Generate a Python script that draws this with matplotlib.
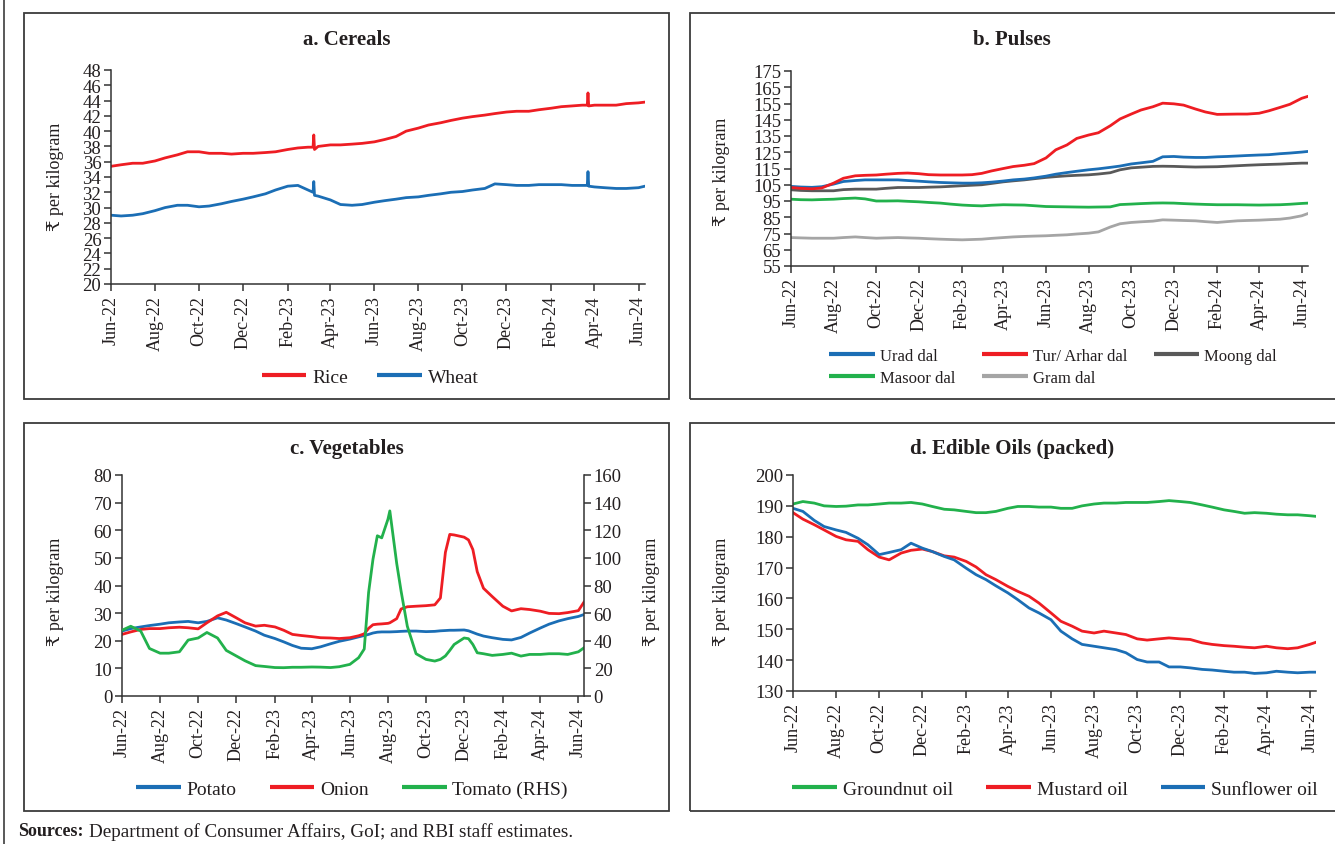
import matplotlib
matplotlib.use('Agg')
import matplotlib.pyplot as plt
import matplotlib.dates as mdates
import pandas as pd
from matplotlib.patches import Rectangle
from matplotlib.lines import Line2D

plt.rcParams['font.family'] = ['Liberation Serif', 'DejaVu Serif', 'DejaVu Sans']
TXT = '#231F20'
plt.rcParams['text.color'] = TXT
plt.rcParams['axes.edgecolor'] = '#333333'
plt.rcParams['xtick.color'] = '#333333'
plt.rcParams['ytick.color'] = '#333333'
plt.rcParams['xtick.labelcolor'] = TXT
plt.rcParams['ytick.labelcolor'] = TXT

RED = '#EE1D23'
BLUE = '#1B6EB5'
GREEN = '#22B14C'
DGRAY = '#595959'
LGRAY = '#A5A5A5'

# ---------------- data ----------------
semi_monthly = list(pd.date_range('2022-06-01', '2024-06-01', freq='SMS'))
end_date = pd.Timestamp('2024-06-10')
dates = semi_monthly + [end_date]

# a. Cereals
rice = [35.4, 35.6, 35.8, 35.8, 36.1, 36.5, 36.9, 37.3, 37.3, 37.1,
        37.1, 37.0, 37.1, 37.1, 37.2, 37.3, 37.6, 37.8, 37.9, 38.0,
        38.2, 38.2, 38.3, 38.4, 38.6, 38.9, 39.3, 40.0, 40.4, 40.8,
        41.1, 41.4, 41.7, 41.9, 42.1, 42.3, 42.5, 42.6, 42.6, 42.8,
        43.0, 43.2, 43.3, 43.4, 43.4, 43.4, 43.4, 43.6, 43.7, 43.8]
wheat = [29.0, 28.9, 29.0, 29.2, 29.6, 30.0, 30.3, 30.3, 30.1, 30.2,
         30.5, 30.8, 31.1, 31.4, 31.8, 32.3, 32.8, 32.9, 32.3, 31.5,
         31.0, 30.4, 30.3, 30.4, 30.7, 30.9, 31.1, 31.3, 31.4, 31.6,
         31.8, 32.0, 32.1, 32.3, 32.5, 33.1, 33.0, 32.9, 32.9, 33.0,
         33.0, 33.0, 32.9, 32.9, 32.7, 32.6, 32.5, 32.5, 32.6, 32.8]
spike_dates = ['2023-03-08', '2023-03-09', '2023-03-10',
               '2024-03-22', '2024-03-23', '2024-03-24']
rice_spikes = [37.9, 39.5, 37.6, 43.4, 45.0, 43.3]
wheat_spikes = [32.0, 33.4, 31.6, 32.9, 34.7, 32.8]

# b. Pulses
urad = [104.0, 103.6, 103.4, 103.8, 105.4, 107.0, 107.6, 108.0, 108.0, 108.0,
        108.0, 107.6, 107.2, 106.8, 106.4, 106.2, 106.0, 106.0, 106.2, 106.6,
        107.3, 108.0, 108.5, 109.2, 110.3, 111.5, 112.5, 113.3, 114.2, 114.8,
        115.7, 116.5, 117.8, 118.5, 119.4, 122.2, 122.4, 122.0, 121.8, 121.8,
        122.2, 122.4, 122.7, 123.0, 123.3, 123.5, 124.1, 124.5, 125.1, 125.5]
tur = [103.3, 102.8, 102.5, 103.0, 106.0, 109.0, 110.5, 110.8, 111.0, 111.5,
       112.0, 112.2, 111.8, 111.2, 111.0, 111.0, 111.0, 111.2, 112.0, 113.5,
       115.0, 116.2, 117.0, 118.0, 121.5, 126.5, 129.5, 133.5, 135.6, 137.0,
       141.3, 145.5, 148.5, 151.0, 153.0, 155.2, 154.8, 154.0, 151.6, 149.8,
       148.3, 148.4, 148.5, 148.5, 149.0, 150.5, 152.6, 154.5, 158.2, 159.4]
moong = [101.9, 101.5, 101.3, 101.3, 101.3, 102.0, 102.3, 102.3, 102.3, 102.8,
         103.3, 103.3, 103.3, 103.5, 103.7, 104.0, 104.4, 104.7, 105.0, 105.8,
         106.8, 107.4, 108.0, 108.7, 109.5, 110.0, 110.5, 110.8, 111.1, 111.6,
         112.4, 114.2, 115.4, 115.8, 116.3, 116.4, 116.3, 116.1, 115.9, 116.0,
         116.1, 116.4, 116.7, 117.0, 117.3, 117.5, 117.7, 118.0, 118.3, 118.3]
masoor = [96.1, 95.8, 95.7, 95.9, 96.1, 96.5, 96.8, 96.3, 95.0, 95.0,
          95.1, 94.8, 94.5, 94.1, 93.7, 93.1, 92.5, 92.2, 92.0, 92.4,
          92.7, 92.6, 92.5, 92.1, 91.6, 91.5, 91.4, 91.3, 91.2, 91.3,
          91.4, 92.8, 93.1, 93.4, 93.7, 93.8, 93.7, 93.4, 93.1, 92.9,
          92.7, 92.7, 92.7, 92.6, 92.5, 92.6, 92.7, 93.0, 93.5, 93.7]
gram = [72.5, 72.3, 72.1, 72.1, 72.1, 72.5, 72.9, 72.5, 72.1, 72.3,
        72.5, 72.3, 72.1, 71.8, 71.5, 71.3, 71.1, 71.3, 71.5, 72.0,
        72.5, 72.9, 73.2, 73.4, 73.6, 73.9, 74.2, 74.7, 75.2, 76.0,
        79.0, 81.0, 81.8, 82.2, 82.6, 83.4, 83.2, 83.0, 82.8, 82.3,
        81.8, 82.3, 82.8, 83.0, 83.2, 83.5, 83.8, 84.5, 85.9, 87.3]

# c. Vegetables (extra dates around the 2023 spikes)
veg_extra_dates = ['2023-06-24', '2023-07-08', '2023-07-22', '2023-08-04', '2023-08-22',
                   '2023-10-24', '2023-11-08', '2023-12-08', '2023-12-22']
veg_dates = sorted(semi_monthly + [pd.Timestamp(d) for d in veg_extra_dates] + [end_date])
potato = [23.5, 24.4, 25.0, 25.5, 26.0, 26.5, 26.8, 27.0, 26.5, 27.0,
          28.3, 27.5, 26.2, 25.0, 23.5, 22.0, 20.8, 19.6, 18.3, 17.3,
          17.1, 17.8, 18.9, 19.8, 20.6, 21.4, 21.9, 22.3, 22.8, 23.1,
          23.2, 23.2, 23.2, 23.3, 23.4, 23.5, 23.5, 23.3, 23.4, 23.6,
          23.7, 23.8, 23.8, 23.9, 23.6, 23.0, 22.4, 21.7, 21.1, 20.5,
          20.3, 21.2, 22.8, 24.6, 26.0, 27.2, 28.0, 28.8, 29.5]
onion = [22.3, 23.2, 24.1, 24.4, 24.4, 24.7, 24.9, 24.7, 24.3, 26.5,
         29.0, 30.3, 28.3, 26.5, 25.3, 25.6, 25.0, 23.8, 22.3, 21.9,
         21.5, 21.1, 21.0, 20.8, 21.1, 21.8, 22.5, 24.5, 25.8, 26.0,
         26.1, 26.3, 26.5, 28.0, 31.5, 32.3, 32.5, 32.7, 33.0, 35.5,
         52.0, 58.5, 58.3, 57.5, 56.5, 53.0, 45.0, 39.0, 36.0, 32.5,
         30.8, 31.6, 31.3, 30.7, 29.9, 29.8, 30.2, 30.9, 34.0]
tomato = [47.6, 50.5, 47.0, 34.4, 31.0, 31.0, 32.0, 40.5, 42.0, 46.0,
          42.0, 33.0, 29.0, 25.5, 22.0, 21.4, 20.6, 20.5, 20.8, 20.8,
          21.0, 20.9, 20.6, 21.2, 22.9, 27.7, 34.0, 75.0, 99.0, 116.0,
          114.5, 128.0, 134.0, 96.0, 76.0, 50.5, 30.6, 26.5, 25.3, 26.5,
          29.0, 33.0, 37.3, 42.0, 41.5, 37.3, 31.3, 30.6, 29.4, 30.1,
          31.0, 28.9, 30.1, 30.1, 30.6, 30.6, 30.1, 32.0, 34.9]

# d. Edible oils
groundnut = [190.6, 191.4, 190.9, 190.0, 189.8, 189.9, 190.3, 190.3, 190.6, 190.9,
             190.9, 191.1, 190.6, 189.8, 188.9, 188.7, 188.2, 187.8, 187.8, 188.2,
             189.2, 189.8, 189.8, 189.6, 189.6, 189.2, 189.2, 190.0, 190.6, 190.9,
             190.9, 191.1, 191.1, 191.1, 191.4, 191.7, 191.4, 191.1, 190.3, 189.6,
             188.7, 188.2, 187.6, 187.8, 187.6, 187.3, 187.1, 187.1, 186.8, 186.6]
mustard = [187.8, 185.7, 183.9, 182.2, 180.1, 179.0, 178.5, 175.8, 173.4, 172.5,
           174.7, 175.6, 176.0, 175.2, 173.8, 173.4, 172.0, 170.2, 167.7, 166.1,
           163.9, 162.3, 160.7, 158.5, 155.3, 152.6, 151.0, 149.4, 148.8, 149.4,
           148.8, 148.3, 146.9, 146.5, 146.9, 147.2, 146.9, 146.7, 145.6, 145.1,
           144.7, 144.5, 144.2, 144.0, 144.5, 144.0, 143.7, 144.0, 145.1, 145.8]
sunflower = [189.2, 188.2, 185.3, 183.3, 182.2, 181.4, 179.5, 177.4, 174.2, 174.9,
             175.8, 177.9, 176.3, 175.2, 173.6, 172.5, 169.8, 167.7, 166.1, 164.1,
             161.8, 159.6, 156.9, 155.3, 153.1, 149.4, 146.9, 145.1, 144.5, 144.0,
             143.4, 142.4, 140.2, 139.4, 139.4, 137.8, 137.8, 137.5, 137.0, 136.8,
             136.4, 136.1, 136.1, 135.7, 135.9, 136.4, 136.1, 135.9, 136.1, 136.1]

# ---------------- layout helpers ----------------
W, H = 1335, 845
fig = plt.figure(figsize=(W / 100, H / 100), dpi=100)
fig.patch.set_facecolor('white')


def px_axes(l, t, r, b):
    return fig.add_axes([l / W, 1 - b / H, (r - l) / W, (b - t) / H])


def box(l, t, r, b):
    fig.add_artist(Rectangle((l / W, 1 - b / H), (r - l) / W, (b - t) / H,
                             transform=fig.transFigure, fill=False,
                             ec='#3C3C3C', lw=1.3))


def style(ax, ylim, yticks):
    ax.set_xlim(dates[0], end_date)
    ax.set_ylim(*ylim)
    ax.set_yticks(yticks)
    ax.xaxis.set_major_locator(mdates.MonthLocator(bymonth=[2, 4, 6, 8, 10, 12]))
    ax.xaxis.set_major_formatter(mdates.DateFormatter('%b-%y'))
    ax.spines['top'].set_visible(False)
    ax.spines['right'].set_visible(False)
    ax.spines['left'].set_linewidth(1.1)
    ax.spines['bottom'].set_linewidth(1.1)
    ax.tick_params(axis='x', rotation=90, labelsize=13, length=5, width=1.1, pad=3)
    ax.tick_params(axis='y', labelsize=13.5, length=5, width=1.1, pad=2)
    ax.set_facecolor('none')


def series(d, v, extra_d=None, extra_v=None):
    s = pd.Series(v, index=pd.DatetimeIndex(d))
    if extra_d is not None:
        s = pd.concat([s, pd.Series(extra_v, index=pd.DatetimeIndex(extra_d))]).sort_index()
    return s


def title(x, y, t):
    fig.text(x / W, 1 - y / H, t, ha='center', va='center', fontsize=15, fontweight='bold')


def ylab(x, y, t='₹ per kilogram'):
    fig.text(x / W, 1 - y / H, t, ha='center', va='center', rotation=90, fontsize=13)


def legend(handles, labels, x, y, ncol, colsp=1.7, fs=14, hl=2.3, rowsp=0.3):
    fig.legend(handles, labels, loc='center', bbox_to_anchor=(x / W, 1 - y / H),
               ncol=ncol, frameon=False, fontsize=fs, handlelength=hl,
               handletextpad=0.3, columnspacing=colsp, labelspacing=rowsp,
               borderaxespad=0, borderpad=0)


def handles(colors):
    return [Line2D([], [], color=c, lw=3, solid_capstyle='butt') for c in colors]


LW = 2.0
outer = Line2D([4 / W, 4 / W], [0, 1], transform=fig.transFigure, color='#3C3C3C', lw=1.2)
fig.add_artist(outer)

# boxes
box(24, 14, 669, 400)
box(690, 14, 1345, 400)
box(24, 424, 669, 812)
box(690, 424, 1345, 812)

# ---------------- a. Cereals ----------------
ax = px_axes(111, 71, 645, 285)
s_rice = series(dates, rice, spike_dates, rice_spikes)
s_wheat = series(dates, wheat, spike_dates, wheat_spikes)
ax.plot(s_rice.index, s_rice.values, color=RED, lw=LW)
ax.plot(s_wheat.index, s_wheat.values, color=BLUE, lw=LW)
style(ax, (20, 48), range(20, 49, 2))
title(347, 40, 'a. Cereals')
ylab(56, 177)
legend(handles((RED, BLUE)), ['Rice', 'Wheat'], 370, 378, 2, colsp=1.5)

# ---------------- b. Pulses ----------------
ax = px_axes(791, 72, 1308, 267)
for vals, c in ((gram, LGRAY), (masoor, GREEN), (moong, DGRAY), (urad, BLUE), (tur, RED)):
    ax.plot(dates, vals, color=c, lw=LW)
style(ax, (55, 175), range(55, 176, 10))
title(1012, 40, 'b. Pulses')
ylab(722, 172)
order = [('Urad dal', BLUE), ('Masoor dal', GREEN), ('Tur/ Arhar dal', RED),
         ('Gram dal', LGRAY), ('Moong dal', DGRAY)]
legend(handles([c for _, c in order]), [n for n, _ in order], 1053, 368, 3,
       colsp=1.6, fs=12, hl=2.75, rowsp=0.35)

# ---------------- c. Vegetables ----------------
ax = px_axes(122, 476, 584, 697)
ax.plot(veg_dates, potato, color=BLUE, lw=LW)
ax.plot(veg_dates, onion, color=RED, lw=LW)
style(ax, (0, 80), range(0, 81, 10))
ax2 = ax.twinx()
ax2.plot(veg_dates, tomato, color=GREEN, lw=LW)
ax2.set_ylim(0, 160)
ax2.set_yticks(range(0, 161, 20))
ax2.spines['top'].set_visible(False)
ax2.spines['left'].set_visible(False)
ax2.spines['bottom'].set_visible(False)
ax2.spines['right'].set_linewidth(1.1)
ax2.tick_params(axis='y', labelsize=13.5, length=5, width=1.1, pad=2)
ax2.set_xlim(dates[0], end_date)
title(347, 449, 'c. Vegetables')
ylab(56, 592)
ylab(651, 592)
legend(handles((BLUE, RED, GREEN)), ['Potato', 'Onion', 'Tomato (RHS)'], 352, 790, 3,
       colsp=1.7)

# ---------------- d. Edible Oils ----------------
ax = px_axes(793, 476, 1316, 692)
ax.plot(dates, groundnut, color=GREEN, lw=LW)
ax.plot(dates, mustard, color=RED, lw=LW)
ax.plot(dates, sunflower, color=BLUE, lw=LW)
style(ax, (130, 200), range(130, 201, 10))
title(1012, 449, 'd. Edible Oils (packed)')
ylab(722, 592)
legend(handles((GREEN, RED, BLUE)), ['Groundnut oil', 'Mustard oil', 'Sunflower oil'],
       1055, 790, 3, colsp=1.7)

# ---------------- source note ----------------
t1 = fig.text(18 / W, 1 - 832 / H, 'Sources:', fontsize=13, fontweight='bold',
              ha='left', va='center')
fig.canvas.draw()
bb = t1.get_window_extent()
fig.text((bb.x1 + 5) / W, 1 - 832 / H,
         'Department of Consumer Affairs, GoI; and RBI staff estimates.',
         fontsize=13.8, ha='left', va='center')

fig.savefig('out.png', dpi=100)
